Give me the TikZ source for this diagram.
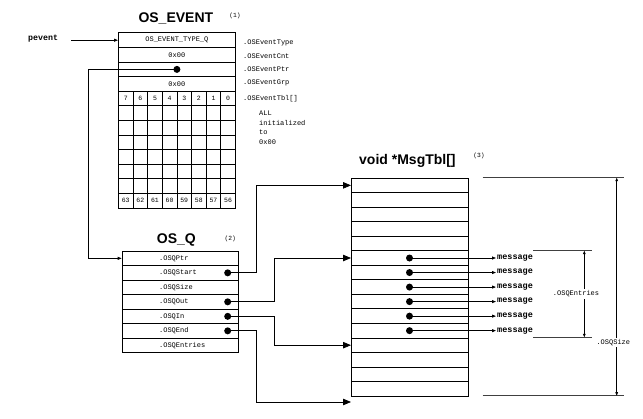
\documentclass[tikz,border=0pt]{standalone}
\usepackage{fontspec}
\newfontfamily\monof{Liberation Mono}
\newfontfamily\sansf{Liberation Sans}
\usetikzlibrary{arrows.meta}
\begin{document}
\begin{tikzpicture}[x=1pt,y=-1pt,
  box/.style={draw, line width=0.8pt, inner sep=0pt, anchor=north west, font=\monof\fontsize{7}{8}\selectfont},
  cell/.style={box, minimum width=14.625pt, minimum height=14.6pt, font=\monof\fontsize{6.5}{7}\selectfont},
  evrow/.style={box, minimum width=117pt, minimum height=14.6pt},
  qrow/.style={box, minimum height=14.5pt, text width=116.6pt, align=left},
  mrow/.style={box, minimum width=116.5pt, minimum height=14.53pt},
  dot/.style={circle, fill=black, minimum size=7pt, inner sep=0pt},
  conn/.style={line width=0.75pt},
  bigarr/.style={-{Triangle[length=8pt,width=6.5pt]}},
  smallarr/.style={-{Triangle[length=4pt,width=3pt]}},
  dimarr/.style={{Triangle[length=3.5pt,width=2.6pt]}-{Triangle[length=3.5pt,width=2.6pt]}, line width=0.6pt},
  dimline/.style={line width=0.6pt, black!75},
  lbl/.style={font=\monof\fontsize{7}{8}\selectfont, inner sep=0pt},
  titlef/.style={font=\sansf\bfseries\fontsize{14}{16}\selectfont, inner sep=0pt, anchor=base west},
  numf/.style={font=\monof\fontsize{6.3}{7}\selectfont, inner sep=0pt},
  msgt/.style={font=\monof\bfseries\fontsize{8.5}{10}\selectfont, inner sep=1pt, anchor=west},
]
\useasboundingbox (0,0) rectangle (643,419);

% ---------- OS_EVENT ----------
\node[titlef] (tev) at (138.3,22.7) {OS\_EVENT};
\node[numf] (n1) at (235,15.5) {(1)};
\node[evrow] (ev0) at (118,32.5) {OS\_EVENT\_TYPE\_Q};
\node[evrow] (ev1) at (118,47.1) {0x00};
\node[evrow] (ev2) at (118,61.7) {};
\node[evrow] (ev3) at (118,76.3) {0x00};
\foreach \c in {0,...,7}{
  \pgfmathtruncatemacro{\ta}{7-\c}
  \pgfmathtruncatemacro{\tb}{63-\c}
  \node[cell] (g0\c) at ({118+\c*14.625},90.9) {\ta};
  \foreach \r in {1,...,6}{
    \node[cell] (g\r\c) at ({118+\c*14.625},{90.9+\r*14.6}) {};
  }
  \node[cell] (g7\c) at ({118+\c*14.625},193.1) {\tb};
}
\node[lbl, anchor=west] (lty) at (243,42.5) {.OSEventType};
\node[lbl, anchor=west] (lcn) at (243,56.5) {.OSEventCnt};
\node[lbl, anchor=west] (lpt) at (243,69.5) {.OSEventPtr};
\node[lbl, anchor=west] (lgr) at (243,83) {.OSEventGrp};
\node[lbl, anchor=west] (ltb) at (243,98.5) {.OSEventTbl[]};
\node[lbl, anchor=north west, align=left, font=\monof\fontsize{7}{9.7}\selectfont] (lall) at (259,110.5) {ALL\\initialized\\to\\0x00};

\node[font=\monof\bfseries\fontsize{8.3}{9}\selectfont, inner sep=0pt, anchor=west] (pevent) at (28,39) {pevent};
\coordinate (pv) at (71,0);
\draw[conn,smallarr] (ev0.west -| pv) -- (ev0.west);

\node[dot] (dp) at (ev2.center) {};

% ---------- OS_Q ----------
\node[titlef] (tq) at (156.7,243.3) {OS\_Q};
\node[numf] (n2) at (230.3,239) {(2)};
\node[qrow] (q0) at (121.7,250.7) {\hspace*{37pt}.OSQPtr};
\node[qrow] (q1) at (121.7,265.2) {\hspace*{37pt}.OSQStart};
\node[qrow] (q2) at (121.7,279.7) {\hspace*{37pt}.OSQSize};
\node[qrow] (q3) at (121.7,294.2) {\hspace*{37pt}.OSQOut};
\node[qrow] (q4) at (121.7,308.7) {\hspace*{37pt}.OSQIn};
\node[qrow] (q5) at (121.7,323.2) {\hspace*{37pt}.OSQEnd};
\node[qrow] (q6) at (121.7,337.7) {\hspace*{37pt}.OSQEntries};
\coordinate (xq) at (227.7,0);
\node[dot] (dq1) at (q1 -| xq) {};
\node[dot] (dq3) at (q3 -| xq) {};
\node[dot] (dq4) at (q4 -| xq) {};
\node[dot] (dq5) at (q5 -| xq) {};

\coordinate (xl) at (88.3,0);
\draw[conn,smallarr] (dp.center) -- (dp -| xl) |- (q0.west);

% ---------- MsgTbl ----------
\node[titlef] (tm) at (359,165) {void *MsgTbl[]};
\node[numf] (n3) at (479,155.7) {(3)};
\foreach \i in {0,...,14}{
  \node[mrow] (m\i) at (351,{177.7+\i*14.53}) {};
}

\coordinate (xa) at (256,0);
\coordinate (xb) at (274.3,0);
\coordinate (bel) at (351,402);
\draw[conn,bigarr] (dq1.center) -- (dq1 -| xa) |- (m0.west);
\draw[conn,bigarr] (dq3.center) -- (dq3 -| xb) |- (m5.west);
\draw[conn,bigarr] (dq4.center) -- (dq4 -| xb) |- (m11.west);
\draw[conn,bigarr] (dq5.center) -- (dq5 -| xa) |- (bel);

\coordinate (xm) at (409.5,0);
\coordinate (xt) at (496,0);
\foreach \i in {5,...,10}{
  \node[dot] (dm\i) at (m\i -| xm) {};
  \node[msgt] (msg\i) at (m\i -| xt) {message};
  \draw[conn,smallarr] (dm\i.center) -- (msg\i.west);
}

% ---------- .OSQEntries ----------
\coordinate (e1) at (533.3,250.7);
\coordinate (e2) at (591.7,250.7);
\coordinate (e3) at (533.3,337.3);
\coordinate (e4) at (591.7,337.3);
\coordinate (ea) at (584.3,250.7);
\coordinate (eb) at (584.3,337.3);
\draw[dimline] (e1) -- (e2);
\draw[dimline] (e3) -- (e4);
\draw[dimarr] (ea) -- (eb);
\node[lbl, fill=white, inner sep=1.5pt] (lent) at (576,294) {.OSQEntries};

% ---------- .OSQSize ----------
\coordinate (s1) at (482.7,177.7);
\coordinate (s2) at (624,177.7);
\coordinate (s3) at (482.7,395.7);
\coordinate (s4) at (624,395.7);
\coordinate (sa) at (616.7,177.7);
\coordinate (sb) at (616.7,395.7);
\draw[dimline] (s1) -- (s2);
\draw[dimline] (s3) -- (s4);
\draw[dimarr] (sa) -- (sb);
\node[lbl, fill=white, inner sep=1.5pt] (lsz) at (613.3,342.3) {.OSQSize};
\end{tikzpicture}
\end{document}
